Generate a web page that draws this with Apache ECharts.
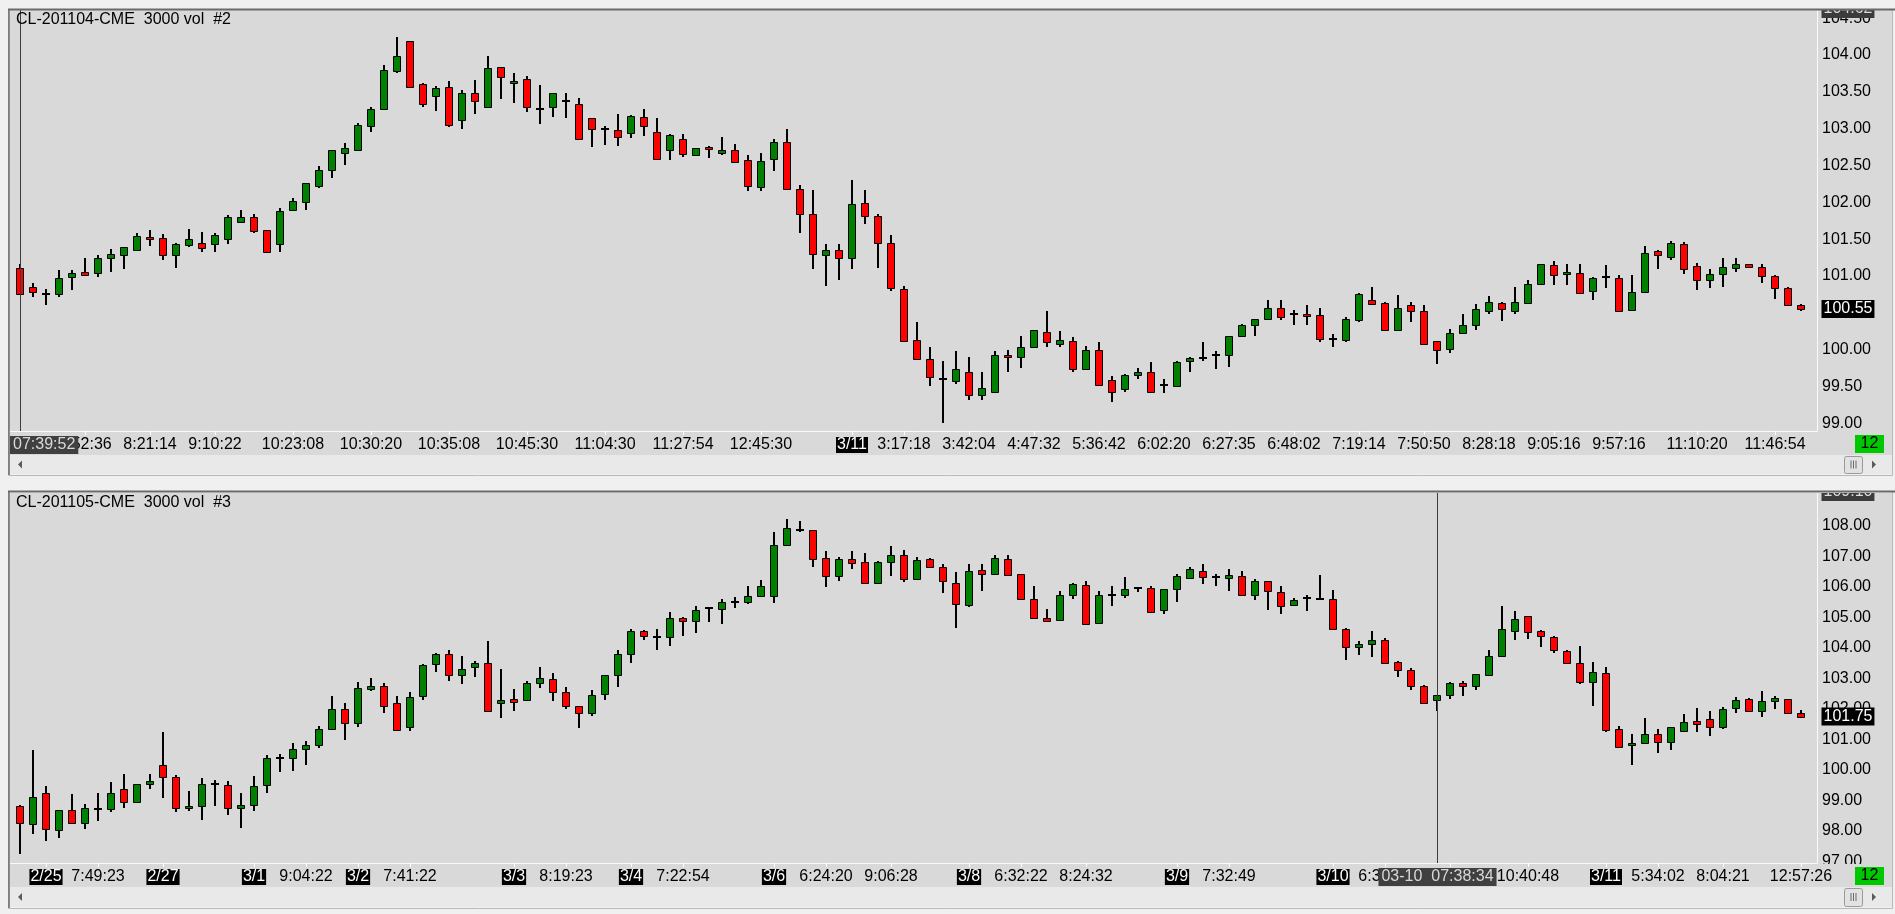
<!DOCTYPE html>
<html><head><meta charset="utf-8">
<script src="https://cdn.jsdelivr.net/npm/echarts@6/dist/echarts.min.js"></script>
<style>html,body{margin:0;padding:0;background:#f0f0f0;overflow:hidden}#c{width:1895px;height:914px}</style>
</head><body><div id="c"></div>
<script>
// ---------- DATA ----------
const topTitle = 'CL-201104-CME  3000 vol  #2';
const bottomTitle = 'CL-201105-CME  3000 vol  #3';

const topOpen = [101.11,100.85,100.75,100.76,100.98,101.05,101.04,101.24,101.29,101.35,101.53,101.51,101.28,101.42,101.45,101.43,101.50,101.73,101.80,101.62,101.43,101.89,102.00,102.22,102.44,102.67,102.71,103.03,103.26,103.78,104.19,103.60,103.44,103.56,103.12,103.48,103.29,103.84,103.63,103.67,103.27,103.29,103.37,103.33,103.14,102.99,102.98,102.94,103.16,102.95,102.71,102.86,102.64,102.75,102.67,102.71,102.58,102.21,102.59,102.82,102.18,101.84,101.28,101.35,101.24,101.99,101.81,101.45,100.82,100.13,99.87,99.60,99.57,99.69,99.39,99.43,99.93,99.90,100.03,100.24,100.08,100.12,99.74,99.99,99.59,99.47,99.65,99.69,99.52,99.50,99.84,99.88,99.92,99.92,100.19,100.33,100.41,100.57,100.49,100.48,100.47,100.14,100.13,100.40,100.67,100.63,100.26,100.60,100.52,100.12,100.01,100.22,100.34,100.52,100.63,100.53,100.63,100.89,101.15,101.02,101.04,100.80,100.98,100.97,100.54,100.78,101.34,101.26,101.43,101.13,100.94,101.02,101.11,101.16,101.12,101.00,100.84,100.61];
const topHigh = [101.16,100.90,100.82,101.08,101.08,101.24,101.28,101.36,101.39,101.58,101.62,101.57,101.45,101.64,101.60,101.58,101.83,101.89,101.84,101.62,101.92,102.06,102.26,102.49,102.71,102.80,103.07,103.29,103.86,104.25,104.19,103.62,103.58,103.65,103.53,103.66,103.98,103.84,103.75,103.71,103.59,103.48,103.49,103.41,103.14,103.04,103.20,103.18,103.26,103.15,102.92,102.92,102.73,102.77,102.88,102.79,102.64,102.67,102.86,102.99,102.24,102.16,101.43,101.43,102.30,102.17,101.84,101.56,100.86,100.37,100.03,99.84,99.98,99.90,99.70,99.98,99.99,100.18,100.26,100.52,100.25,100.17,100.05,100.10,99.64,99.67,99.75,99.83,99.60,99.85,99.90,100.10,99.98,100.19,100.35,100.41,100.67,100.67,100.54,100.61,100.56,100.21,100.44,100.77,100.85,100.65,100.74,100.65,100.61,100.12,100.28,100.49,100.62,100.73,100.65,100.85,100.95,101.16,101.20,101.16,101.16,100.99,101.15,101.01,101.01,101.40,101.35,101.47,101.46,101.17,101.09,101.24,101.24,101.16,101.16,101.01,100.85,100.62];
const topLow = [100.75,100.72,100.61,100.72,100.81,101.01,100.98,101.06,101.10,101.35,101.40,101.21,101.11,101.39,101.33,101.32,101.43,101.73,101.58,101.32,101.32,101.89,101.90,102.19,102.33,102.50,102.71,102.96,103.26,103.75,103.56,103.30,103.24,103.02,103.00,103.20,103.29,103.40,103.35,103.23,103.06,103.16,103.15,102.86,102.75,102.78,102.76,102.87,102.90,102.58,102.57,102.61,102.64,102.60,102.64,102.53,102.15,102.15,102.42,102.18,101.58,101.10,100.86,100.95,101.10,101.70,101.11,100.79,100.10,99.86,99.50,99.00,99.53,99.31,99.31,99.43,99.70,99.75,100.03,100.04,100.04,99.70,99.74,99.50,99.29,99.42,99.60,99.41,99.41,99.50,99.70,99.84,99.74,99.76,100.18,100.18,100.41,100.40,100.33,100.33,100.10,100.04,100.10,100.38,100.61,100.26,100.26,100.38,100.07,99.80,99.95,100.22,100.27,100.49,100.39,100.49,100.63,100.88,100.88,100.88,100.76,100.68,100.83,100.52,100.53,100.78,101.09,101.21,101.02,100.81,100.83,100.85,101.06,101.12,100.91,100.69,100.60,100.52];
const topClose = [100.75,100.78,100.75,100.97,101.04,101.01,101.24,101.30,101.39,101.54,101.50,101.28,101.43,101.50,101.38,101.55,101.80,101.80,101.61,101.32,101.88,102.02,102.26,102.44,102.71,102.73,103.05,103.26,103.79,103.98,103.57,103.34,103.55,103.05,103.48,103.38,103.82,103.70,103.65,103.29,103.27,103.48,103.37,102.86,103.00,102.99,102.88,103.17,103.04,102.59,102.91,102.65,102.73,102.72,102.71,102.55,102.22,102.56,102.82,102.18,101.84,101.30,101.35,101.25,101.98,101.81,101.45,100.83,100.12,99.87,99.63,99.60,99.73,99.39,99.48,99.93,99.90,100.04,100.26,100.10,100.13,99.74,99.99,99.52,99.43,99.65,99.69,99.43,99.52,99.83,99.88,99.88,99.92,100.18,100.33,100.41,100.56,100.44,100.49,100.45,100.14,100.14,100.41,100.75,100.62,100.27,100.56,100.52,100.08,99.99,100.22,100.33,100.55,100.64,100.55,100.64,100.89,101.16,101.01,101.05,100.77,100.97,100.98,100.52,100.78,101.31,101.29,101.45,101.10,100.94,101.02,101.12,101.16,101.12,101.00,100.83,100.60,100.55];

const bottomOpen = [98.82,98.22,99.23,98.02,98.68,98.25,98.72,98.71,99.37,98.94,99.53,100.15,99.76,98.74,98.81,99.53,99.50,98.74,98.84,99.50,100.38,100.38,100.68,100.81,101.33,101.99,101.53,102.64,102.74,102.19,101.40,102.42,103.46,103.79,103.10,103.37,103.50,102.19,102.32,102.28,102.84,102.97,102.55,102.09,101.86,102.48,103.10,103.79,104.55,104.35,104.35,104.97,104.87,105.30,105.27,105.50,105.50,105.69,105.69,107.37,107.86,107.86,106.94,106.35,106.91,106.81,106.12,106.81,107.04,106.25,106.91,106.64,106.12,105.40,106.55,106.42,106.91,106.42,105.60,104.97,104.91,105.73,106.05,104.81,105.73,105.73,105.96,105.96,105.23,105.92,106.28,106.51,106.32,106.28,106.35,105.73,106.19,105.82,105.40,105.63,105.60,105.60,104.61,104.02,104.12,104.25,103.53,103.27,102.74,102.28,102.45,102.84,102.74,103.10,103.73,104.55,105.04,104.55,104.35,103.89,103.50,102.87,103.17,101.33,100.84,100.87,101.17,100.91,101.27,101.60,101.66,101.40,102.02,102.32,101.92,102.25,102.32,101.86];
const bottomHigh = [98.85,100.66,99.48,98.68,99.21,98.89,99.25,99.61,99.87,99.53,99.87,101.25,99.83,99.31,99.73,99.67,99.64,99.25,99.79,100.48,100.51,100.87,100.94,101.43,102.42,102.19,102.87,103.01,102.84,102.42,102.55,103.49,103.82,103.92,103.73,103.56,104.22,103.30,102.64,102.91,103.37,103.17,102.71,102.09,102.61,103.10,103.92,104.61,104.58,104.61,105.17,105.00,105.37,105.30,105.60,105.66,106.02,106.22,107.79,108.22,108.15,107.86,107.17,106.97,107.17,107.10,106.84,107.33,107.20,106.97,106.94,106.74,106.48,106.74,106.74,107.04,107.04,106.42,106.02,105.27,105.86,106.12,106.19,105.86,106.02,106.32,105.99,106.02,105.92,106.42,106.64,106.74,106.42,106.58,106.51,106.25,106.19,106.02,105.63,105.73,106.38,105.89,104.64,104.22,104.55,104.32,103.56,103.33,102.78,102.45,102.87,102.91,103.14,103.92,105.37,105.20,105.04,104.58,104.38,103.92,104.05,103.53,103.37,101.43,101.17,101.69,101.33,101.40,101.82,102.02,101.92,102.06,102.38,102.35,102.58,102.42,102.32,101.95];
const bottomLow = [97.23,97.89,97.68,97.78,98.25,98.08,98.32,98.61,98.74,98.94,99.37,99.07,98.61,98.64,98.35,98.81,98.51,98.09,98.64,99.23,99.92,99.96,100.15,100.71,101.30,100.97,101.40,102.58,101.86,101.30,101.27,102.28,103.20,102.91,102.81,103.04,101.92,101.69,101.92,102.28,102.68,102.25,101.99,101.37,101.76,102.28,102.71,103.50,104.25,103.92,104.05,104.40,104.48,104.84,104.78,105.30,105.43,105.69,105.46,107.33,107.79,106.64,105.99,106.19,106.58,106.09,106.12,106.35,106.15,106.25,106.64,105.79,104.64,105.33,105.86,106.42,106.38,105.60,104.97,104.84,104.87,105.60,104.78,104.81,105.37,105.63,105.82,105.17,105.10,105.50,106.28,106.09,106.02,105.86,105.73,105.56,105.23,105.10,105.40,105.20,105.60,104.61,103.60,103.76,103.69,103.50,103.04,102.61,102.19,101.92,102.32,102.42,102.61,103.10,103.73,104.25,104.28,104.02,103.82,103.50,102.81,102.09,101.23,100.71,100.15,100.87,100.55,100.64,101.27,101.23,101.10,101.33,101.86,101.92,101.73,101.99,101.86,101.75];
const bottomClose = [98.25,99.10,98.05,98.68,98.25,98.74,98.72,99.23,98.94,99.53,99.63,99.76,98.74,98.81,99.53,99.53,98.74,98.84,99.46,100.38,100.38,100.68,100.81,101.33,101.99,101.53,102.68,102.74,102.09,101.30,102.38,103.43,103.79,103.10,103.30,103.50,101.92,102.28,102.22,102.84,103.01,102.55,102.09,101.86,102.45,103.10,103.79,104.55,104.38,104.35,104.97,104.87,105.23,105.30,105.50,105.50,105.69,106.02,107.37,107.92,107.86,106.91,106.35,106.91,106.78,106.12,106.81,107.04,106.25,106.87,106.64,106.19,105.43,106.51,106.42,106.94,106.38,105.60,104.97,104.87,105.73,106.09,104.78,105.73,105.73,105.92,105.96,105.17,105.92,106.35,106.58,106.32,106.32,106.38,105.73,106.19,105.86,105.37,105.56,105.63,105.60,104.61,104.02,104.12,104.25,103.50,103.27,102.74,102.19,102.45,102.84,102.74,103.14,103.73,104.61,104.94,104.51,104.38,103.92,103.50,102.87,103.20,101.30,100.74,100.87,101.17,100.91,101.40,101.56,101.50,101.40,101.99,102.28,101.92,102.25,102.35,101.86,101.75];

const topPriceTicks = [99, 99.5, 100, 100.5, 101, 101.5, 102, 102.5, 103, 103.5, 104, 104.5];
const bottomPriceTicks = [97, 98, 99, 100, 101, 102, 103, 104, 105, 106, 107, 108];
const topRange = [98.895, 104.61];
const bottomRange = [96.95, 109.08];
const topMaxLabel = '104.62';
const bottomMaxLabel = '109.10';

const topLabelIdx = [5,10,15,21,27,33,39,45,51,57,64,68,73,78,83,88,93,98,103,108,113,118,123,129,135];
const topLabelText = ['7:52:36','8:21:14','9:10:22','10:23:08','10:30:20','10:35:08','10:45:30','11:04:30','11:27:54','12:45:30','3/11','3:17:18','3:42:04','4:47:32','5:36:42','6:02:20','6:27:35','6:48:02','7:19:14','7:50:50','8:28:18','9:05:16','9:57:16','11:10:20','11:46:54'];
const bottomLabelIdx = [2,6,11,18,22,26,30,38,42,47,51,58,62,67,73,77,82,89,93,101,105,110,116,122,126,131,137];
const bottomLabelText = ['2/25','7:49:23','2/27','3/1','9:04:22','3/2','7:41:22','3/3','8:19:23','3/4','7:22:54','3/6','6:24:20','9:06:28','3/8','6:32:22','8:24:32','3/9','7:32:49','3/10','6:35:16','','10:40:48','3/11','5:34:02','8:04:21','12:57:26'];

const topCrossIdx = 0, topCrossText = '07:39:52';
const bottomCrossIdx = 109, bottomCrossText = '03-10  07:38:34';
const barCountText = '12';

// ---------- CHART ----------
const F = "'Liberation Sans', Arial, sans-serif";
const PB = '#d9d9d9', WIN = '#f0f0f0';
const chart = echarts.init(document.getElementById('c'), null, {renderer: 'canvas'});
const cats = topOpen.map((_, i) => String(i));

function candleData(o, h, l, c) { return o.map((v, i) => [i, v, c[i], l[i], h[i]]); }

function renderCandle(params, api) {
  const i = api.value(0), o = api.value(1), c = api.value(2), l = api.value(3), h = api.value(4);
  const pO = api.coord([i, o]), pC = api.coord([i, c]);
  const yL = api.coord([i, l])[1], yH = api.coord([i, h])[1];
  const x = Math.round(pO[0]);
  const ch = [{type: 'line', shape: {x1: x, y1: Math.round(yH), x2: x, y2: Math.round(yL)}, style: {stroke: '#000', lineWidth: 2}}];
  if (Math.abs(o - c) < 1e-9) {
    const y = Math.round(pO[1]);
    ch.push({type: 'line', shape: {x1: x - 4, y1: y, x2: x + 4, y2: y}, style: {stroke: '#000', lineWidth: 2}});
  } else {
    const t = Math.round(Math.min(pO[1], pC[1])) + 0.5;
    const b = Math.max(Math.round(Math.max(pO[1], pC[1])) + 0.5, t + 2);
    ch.push({type: 'rect', shape: {x: x - 3.5, y: t, width: 7, height: b - t},
      style: {fill: c > o ? '#008000' : '#ff0000', stroke: '#000', lineWidth: 1}});
  }
  return {type: 'group', children: ch};
}

function xAxisFor(gi, idx, txt) {
  const map = {}; idx.forEach((k, j) => map[k] = txt[j]);
  const show = (i) => map[i] !== undefined;
  return {
    type: 'category', gridIndex: gi, data: cats, boundaryGap: true, z: 3,
    axisLine: {show: false},
    axisTick: {show: true, alignWithLabel: true, interval: show, length: 4, lineStyle: {color: '#ffffff', width: 1}},
    axisLabel: {
      interval: show, margin: 5,
      formatter: (v, i) => { const t = map[i]; if (!t) return ''; return t.indexOf('/') >= 0 ? '{d|' + t + '}' : '{t|' + t + '}'; },
      rich: {
        t: {fontSize: 16, fontFamily: F, color: '#000', lineHeight: 18, padding: [0, 1]},
        d: {fontSize: 16, fontFamily: F, color: '#fff', backgroundColor: '#000', lineHeight: 18, padding: [0, 1]}
      }
    },
    splitLine: {show: false}
  };
}
function yAxisFor(gi, range, ticks) {
  return {
    type: 'value', gridIndex: gi, position: 'right', offset: 9.5, min: range[0], max: range[1], z: 0,
    axisLine: {show: false}, axisTick: {show: false}, splitLine: {show: false},
    axisLabel: {customValues: ticks, formatter: v => Number(v).toFixed(2), margin: 5, fontSize: 16, fontFamily: F, color: '#000'}
  };
}

chart.setOption({
  backgroundColor: WIN,
  animation: false,
  grid: [
    {left: 13.5, top: 10, width: 1794, height: 421},
    {left: 13.5, top: 493, width: 1794, height: 370}
  ],
  xAxis: [xAxisFor(0, topLabelIdx, topLabelText), xAxisFor(1, bottomLabelIdx, bottomLabelText)],
  yAxis: [yAxisFor(0, topRange, topPriceTicks), yAxisFor(1, bottomRange, bottomPriceTicks)],
  series: [
    {type: 'custom', xAxisIndex: 0, yAxisIndex: 0, renderItem: renderCandle, encode: {x: 0, y: [1, 2, 3, 4]},
     data: candleData(topOpen, topHigh, topLow, topClose), z: 2},
    {type: 'custom', xAxisIndex: 1, yAxisIndex: 1, renderItem: renderCandle, encode: {x: 0, y: [1, 2, 3, 4]},
     data: candleData(bottomOpen, bottomHigh, bottomLow, bottomClose), z: 2}
  ]
});

// ---------- DECORATION (window frame, strips, boxes) ----------
function panel(gi, p, title, crossIdx, crossText, crossClampLeft, lastPrice, maxLabel) {
  const g = [];
  const {frameTop, plotTop, plotBottom, stripBottom, sbBottom, frameBottom} = p;
  // backgrounds
  g.push({type: 'rect', z: -10, shape: {x: 10, y: plotTop, width: 1882, height: stripBottom - plotTop}, style: {fill: PB}});
  g.push({type: 'rect', z: -10, shape: {x: 10, y: stripBottom, width: 1882, height: sbBottom - stripBottom}, style: {fill: '#e9e9e9'}});
  // white borders
  g.push({type: 'line', z: 1, shape: {x1: 10, y1: plotBottom + 0.5, x2: 1817.5, y2: plotBottom + 0.5}, style: {stroke: '#fafafa', lineWidth: 1}});
  g.push({type: 'line', z: 1, shape: {x1: 1817.5, y1: plotTop, x2: 1817.5, y2: plotBottom + 0.5}, style: {stroke: '#fafafa', lineWidth: 1}});
  // right strip cover (clips price labels at the strip)
  g.push({type: 'rect', z: 1, shape: {x: 1818, y: plotBottom + 1, width: 74, height: stripBottom - plotBottom - 1}, style: {fill: PB}});
  // bar counter
  g.push({type: 'rect', z: 4, shape: {x: 1855, y: plotBottom + 4, width: 29, height: 18}, style: {fill: '#00c800'}});
  g.push({type: 'text', z: 5, x: 1869.5, y: plotBottom + 13, style: {text: barCountText, fill: '#000', font: '16px ' + F, textAlign: 'center', textVerticalAlign: 'middle'}});
  // title
  g.push({type: 'text', z: 4, x: 16, y: plotTop + 10, style: {text: title, fill: '#000', font: '16px ' + F, textVerticalAlign: 'middle'}});
  // scrollbar
  const sy = (stripBottom + sbBottom) / 2;
  g.push({type: 'polygon', z: 4, shape: {points: [[18, sy], [22, sy - 4], [22, sy + 4]]}, style: {fill: '#5a5a5a'}});
  g.push({type: 'polygon', z: 4, shape: {points: [[1876, sy], [1872, sy - 4], [1872, sy + 4]]}, style: {fill: '#5a5a5a'}});
  g.push({type: 'rect', z: 4, shape: {x: 1844.5, y: stripBottom + 1.5, width: 18, height: sbBottom - stripBottom - 2, r: 2}, style: {fill: '#e2e2e2', stroke: '#9a9a9a', lineWidth: 1}});
  [1851, 1853.5, 1856].forEach(x => g.push({type: 'line', z: 5, shape: {x1: x, y1: sy - 4, x2: x, y2: sy + 4}, style: {stroke: '#6a6a6a', lineWidth: 1}}));
  // crosshair
  const cx = Math.round(chart.convertToPixel({xAxisIndex: gi}, crossIdx)) + 0.5;
  g.push({type: 'line', z: 3, shape: {x1: cx, y1: plotTop, x2: cx, y2: plotBottom}, style: {stroke: '#3c3c3c', lineWidth: 1}});
  g.push({type: 'text', z: 5, x: crossClampLeft ? 10 : cx, y: plotBottom + 14,
    style: {text: crossText, fill: '#d8d8d8', font: '16px ' + F, backgroundColor: '#404040', padding: [1, 3, 1, 3],
      textAlign: crossClampLeft ? 'left' : 'center', textVerticalAlign: 'middle'}});
  // last price box
  const ly = chart.convertToPixel({yAxisIndex: gi}, lastPrice);
  g.push({type: 'text', z: 5, x: 1821.5, y: ly, style: {text: lastPrice.toFixed(2), fill: '#fff', font: '16px ' + F,
    backgroundColor: '#000', padding: [1, 2, 1, 2], textVerticalAlign: 'middle'}});
  // max price box (half hidden under the panel edge)
  g.push({type: 'text', z: 5, x: 1821.5, y: plotTop - 1, style: {text: maxLabel, fill: '#dcdcdc', font: '16px ' + F,
    backgroundColor: '#3c3c3c', padding: [1, 2, 1, 2], textVerticalAlign: 'middle'}});
  g.push({type: 'rect', z: 6, shape: {x: 1817, y: frameTop - 14, width: 78, height: plotTop - frameTop + 14}, style: {fill: WIN}});
  // frame
  g.push({type: 'rect', z: 7, shape: {x: 8.5, y: frameTop + 0.5, width: 1884, height: frameBottom - frameTop}, style: {fill: 'none', stroke: '#b9b9b9', lineWidth: 1}});
  g.push({type: 'line', z: 8, shape: {x1: 8, y1: frameTop + 0.5, x2: 1895, y2: frameTop + 0.5}, style: {stroke: '#6a6a6a', lineWidth: 2}});
  g.push({type: 'line', z: 8, shape: {x1: 9, y1: frameTop, x2: 9, y2: frameBottom}, style: {stroke: '#6a6a6a', lineWidth: 1.5}});
  return g;
}

const graphics = [].concat(
  panel(0, {frameTop: 9, plotTop: 10, plotBottom: 431, stripBottom: 455, sbBottom: 474, frameBottom: 475},
    topTitle, topCrossIdx, topCrossText, true, topClose[topClose.length - 1], topMaxLabel),
  panel(1, {frameTop: 491, plotTop: 493, plotBottom: 863, stripBottom: 887, sbBottom: 907, frameBottom: 908},
    bottomTitle, bottomCrossIdx, bottomCrossText, false, bottomClose[bottomClose.length - 1], bottomMaxLabel)
);
chart.setOption({graphic: {elements: graphics}});
</script></body></html>
